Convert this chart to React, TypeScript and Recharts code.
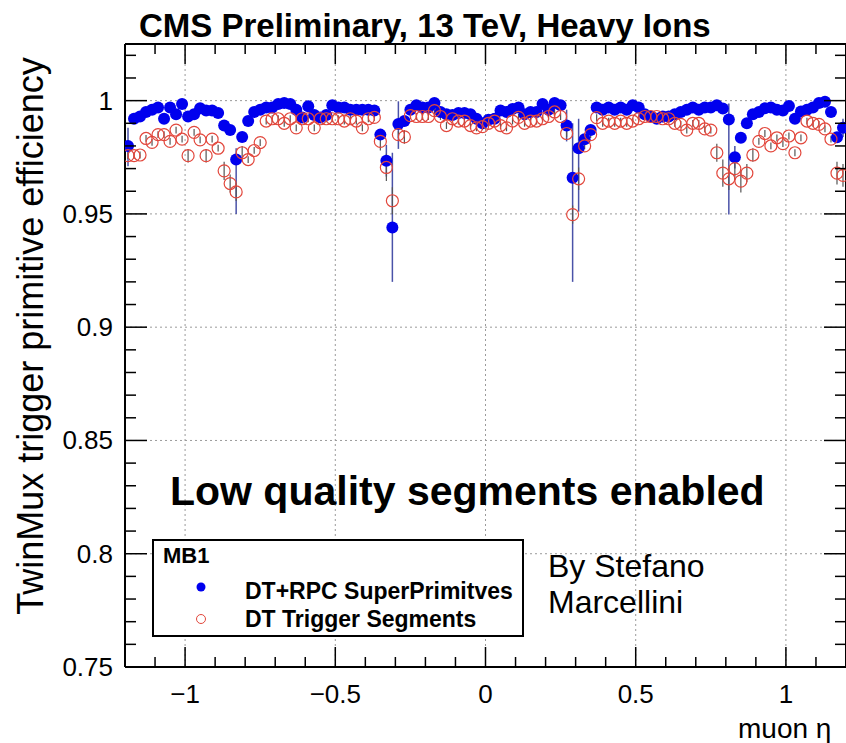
import { ScatterChart, Scatter, XAxis, YAxis, ErrorBar, CartesianGrid, Legend } from 'recharts';

// binning of muon eta: 120 bins of 0.02 from -1.2 to 1.2
const ETA_MIN = -1.2;
const BIN_WIDTH = 0.02;

const SERIES_NAMES = ['DT+RPC SuperPrimitves', 'DT Trigger Segments'];

// DT+RPC SuperPrimitives efficiency per eta bin
const SUPER_PRIM_EFF = [
  0.980, 0.992, 0.993, 0.995, 0.996, 0.997, 0.992, 0.997, 0.994, 0.9985,
  0.993, 0.994, 0.9966, 0.9956, 0.9956, 0.9945, 0.989, 0.987, 0.974, 0.984,
  0.991, 0.995, 0.996, 0.997, 0.997, 0.9985, 0.999, 0.9985, 0.996, 0.9926,
  0.9975, 0.9937, 0.9926, 0.9937, 0.998, 0.997, 0.997, 0.996, 0.996, 0.996,
  0.996, 0.9956, 0.985, 0.9735, 0.944, 0.9897, 0.991, 0.996, 0.998, 0.997,
  0.997, 0.999, 0.995, 0.994, 0.9937, 0.9945, 0.9945, 0.994, 0.992, 0.990,
  0.9916, 0.992, 0.9956, 0.995, 0.9963, 0.997, 0.994, 0.995, 0.995, 0.9985,
  0.996, 0.999, 0.998, 0.989, 0.966, 0.979, 0.983, 0.987, 0.997, 0.996,
  0.997, 0.996, 0.997, 0.996, 0.998, 0.997, 0.994, 0.993, 0.992, 0.993,
  0.993, 0.994, 0.995, 0.996, 0.997, 0.996, 0.997, 0.997, 0.998, 0.9965,
  0.9917, 0.975, 0.9836, 0.990, 0.994, 0.995, 0.9966, 0.997, 0.996, 0.9956,
  0.9976, 0.992, 0.9952, 0.996, 0.997, 0.999, 0.9995, 0.995, 0.9838, 0.988,
];

// DT Trigger Segments efficiency per eta bin
const TRIG_SEG_EFF = [
  0.9757, 0.9757, 0.976, 0.9833, 0.9816, 0.985, 0.985, 0.982, 0.987, 0.983,
  0.9757, 0.986, 0.9827, 0.9757, 0.983, 0.979, 0.969, 0.9634, 0.9597, 0.977,
  0.974, 0.978, 0.9815, 0.991, 0.992, 0.992, 0.990, 0.992, 0.988, 0.992,
  0.992, 0.988, 0.992, 0.992, 0.992, 0.992, 0.991, 0.992, 0.991, 0.988,
  0.992, 0.9926, 0.982, 0.9705, 0.9558, 0.985, 0.984, 0.9934, 0.993, 0.993,
  0.993, 0.9956, 0.993, 0.989, 0.992, 0.991, 0.991, 0.989, 0.988, 0.9885,
  0.990, 0.991, 0.989, 0.988, 0.991, 0.9926, 0.990, 0.991, 0.991, 0.992,
  0.993, 0.995, 0.993, 0.9855, 0.9497, 0.9655, 0.980, 0.985, 0.9925, 0.990,
  0.991, 0.990, 0.991, 0.990, 0.991, 0.992, 0.993, 0.993, 0.993, 0.992,
  0.992, 0.990, 0.9895, 0.987, 0.990, 0.990, 0.9875, 0.987, 0.977, 0.968,
  0.9655, 0.970, 0.9645, 0.968, 0.976, 0.982, 0.9855, 0.980, 0.9836, 0.981,
  0.9844, 0.977, 0.9836, 0.991, 0.990, 0.9895, 0.9875, 0.983, 0.968, 0.967,
];

// visible error bars: [bin, low, high]; the rest hide under the markers
const SUPER_PRIM_ERR: [number, number, number][] = [
  [0, 0.009, 0.008], [18, 0.024, 0.005], [43, 0.007, 0.007], [44, 0.024, 0.033],
  [45, 0.011, 0.010], [73, 0.007, 0.007], [74, 0.046, 0.024], [75, 0.028, 0.013],
  [100, 0.042, 0.007], [101, 0.005, 0.005], [119, 0.004, 0.004],
];
const TRIG_SEG_ERR: [number, number, number][] = [
  [10, 0.003, 0.003], [13, 0.003, 0.003], [16, 0.004, 0.004], [17, 0.004, 0.004],
  [18, 0.004, 0.004], [19, 0.003, 0.003], [42, 0.004, 0.004], [43, 0.006, 0.006],
  [44, 0.006, 0.006], [46, 0.003, 0.003], [74, 0.004, 0.004], [75, 0.005, 0.005],
  [98, 0.004, 0.004], [99, 0.006, 0.006], [100, 0.005, 0.005], [101, 0.005, 0.005],
  [102, 0.005, 0.005], [103, 0.004, 0.004], [104, 0.003, 0.003], [118, 0.005, 0.005],
  [119, 0.005, 0.005],
];
const DEFAULT_ERR = 0.0015;

const X_MAJOR = [-1, -0.5, 0, 0.5, 1];
const X_LABELS = ['\u22121', '\u22120.5', '0', '0.5', '1'];
const Y_MAJOR = [0.75, 0.8, 0.85, 0.9, 0.95, 1];
const Y_LABELS = ['0.75', '0.8', '0.85', '0.9', '0.95', '1'];

// minor ticks every 0.1 in eta and 0.01 in efficiency
const X_TICKS = Array.from({ length: 25 }, (_, k) => +(-1.2 + 0.1 * k).toFixed(2));
const Y_TICKS = Array.from({ length: 28 }, (_, k) => +(0.75 + 0.01 * k).toFixed(2));

const X_DOMAIN = [-1.2, 1.2];
const Y_DOMAIN = [0.75, 1.025];

const BLUE = '#0000ee';
const RED = '#e2473c';
const FONT = '"Liberation Sans", Arial, Helvetica, sans-serif';

function buildSeries(eff: number[], errs: [number, number, number][]) {
  return eff.map((v, i) => {
    const e = errs.find((r) => r[0] === i);
    return {
      eta: +(ETA_MIN + BIN_WIDTH * (i + 0.5)).toFixed(3),
      eff: v,
      err: e ? [e[1], e[2]] : [DEFAULT_ERR, DEFAULT_ERR],
    };
  });
}

const superPrimData = buildSeries(SUPER_PRIM_EFF, SUPER_PRIM_ERR);
const trigSegData = buildSeries(TRIG_SEG_EFF, TRIG_SEG_ERR);

const majorIndex = (v: number, majors: number[]) => majors.findIndex((m) => Math.abs(m - v) < 1e-6);

function BottomTick(props: any) {
  const { x, y, payload } = props;
  const k = majorIndex(payload.value, X_MAJOR);
  return (
    <g>
      <line x1={x} y1={y} x2={x} y2={y - (k >= 0 ? 20 : 10)} stroke="#000" strokeWidth={1.5} />
      {k >= 0 && (
        <text x={x} y={y + 36} textAnchor="middle" fontSize={26} fontFamily={FONT} fill="#000">
          {X_LABELS[k]}
        </text>
      )}
    </g>
  );
}

function TopTick(props: any) {
  const { x, y, payload } = props;
  const k = majorIndex(payload.value, X_MAJOR);
  return <line x1={x} y1={y} x2={x} y2={y + (k >= 0 ? 20 : 10)} stroke="#000" strokeWidth={1.5} />;
}

function LeftTick(props: any) {
  const { x, y, payload } = props;
  const k = majorIndex(payload.value, Y_MAJOR);
  return (
    <g>
      <line x1={x} y1={y} x2={x + (k >= 0 ? 22 : 11)} y2={y} stroke="#000" strokeWidth={1.5} />
      {k >= 0 && (
        <text x={x - 12} y={y + 9} textAnchor="end" fontSize={26} fontFamily={FONT} fill="#000">
          {Y_LABELS[k]}
        </text>
      )}
    </g>
  );
}

function RightTick(props: any) {
  const { x, y, payload } = props;
  const k = majorIndex(payload.value, Y_MAJOR);
  return <line x1={x} y1={y} x2={x - (k >= 0 ? 22 : 11)} y2={y} stroke="#000" strokeWidth={1.5} />;
}

const BlueDot = (props: any) => <circle cx={props.cx} cy={props.cy} r={6} fill={BLUE} />;
const RedRing = (props: any) => (
  <circle cx={props.cx} cy={props.cy} r={6} fill="none" stroke={RED} strokeWidth={1.2} />
);

function LegendBox() {
  return (
    <svg width={372} height={98} style={{ display: 'block', fontFamily: FONT }}>
      <rect x={1} y={1} width={370} height={96} fill="#fff" stroke="#000" strokeWidth={2} />
      <text x={11} y={24} fontSize={22} fontWeight="bold" fill="#000">MB1</text>
      <circle cx={49} cy={48} r={4.5} fill={BLUE} />
      <text x={93} y={60} fontSize={23} fontWeight="bold" fill="#000">{SERIES_NAMES[0]}</text>
      <circle cx={49} cy={80} r={4.5} fill="none" stroke={RED} strokeWidth={1} />
      <text x={93} y={88} fontSize={23} fontWeight="bold" fill="#000">{SERIES_NAMES[1]}</text>
    </svg>
  );
}

// axes are 1px thick boxes; Recharts skips drawing an axis of zero size
const axisCommon = {
  type: 'number' as const,
  interval: 0 as const,
  tickSize: 0,
  tickMargin: 0,
  tickLine: false,
  axisLine: { stroke: '#000', strokeWidth: 2 },
  allowDataOverflow: true,
};

export default function App() {
  return (
    <div style={{ position: 'absolute', left: 0, top: 0, width: 846, height: 743, background: '#fff', overflow: 'hidden', fontFamily: FONT }}>
      <ScatterChart width={846} height={743} margin={{ top: 43, right: -1, bottom: 75, left: 124 }}>
        <CartesianGrid
          stroke="#9a9a9a"
          strokeDasharray="2 3"
          horizontalValues={Y_MAJOR.slice(1)}
          verticalValues={X_MAJOR}
        />
        <XAxis {...axisCommon} dataKey="eta" domain={X_DOMAIN} ticks={X_TICKS} height={1} tick={BottomTick} />
        <XAxis
          {...axisCommon}
          xAxisId="top"
          orientation="top"
          dataKey="eta"
          domain={X_DOMAIN}
          ticks={X_TICKS}
          height={1}
          tick={TopTick}
        />
        <YAxis {...axisCommon} dataKey="eff" domain={Y_DOMAIN} ticks={Y_TICKS} width={1} tick={LeftTick} />
        <YAxis
          {...axisCommon}
          yAxisId="right"
          orientation="right"
          dataKey="eff"
          domain={Y_DOMAIN}
          ticks={Y_TICKS}
          width={1}
          tick={RightTick}
        />
        <Legend
          layout="vertical"
          align="center"
          verticalAlign="middle"
          content={<LegendBox />}
          wrapperStyle={{ position: 'absolute', left: 152, top: 539, width: 372, height: 98 }}
        />
        <Scatter name={SERIES_NAMES[0]} data={superPrimData} fill={BLUE} shape={BlueDot} isAnimationActive={false}>
          <ErrorBar dataKey="err" direction="y" width={0} stroke="#4a52a8" strokeWidth={1.5} isAnimationActive={false} />
        </Scatter>
        <Scatter
          name={SERIES_NAMES[1]}
          xAxisId="top"
          yAxisId="right"
          data={trigSegData}
          fill={RED}
          shape={RedRing}
          isAnimationActive={false}
        >
          <ErrorBar dataKey="err" direction="y" width={0} stroke="#555" strokeWidth={1.2} isAnimationActive={false} />
        </Scatter>
      </ScatterChart>

      <svg
        width={846}
        height={743}
        style={{ position: 'absolute', left: 0, top: 0, pointerEvents: 'none', fontFamily: FONT }}
      >
        <text x={139} y={37} fontSize={33} fontWeight="bold" fill="#000">
          CMS Preliminary, 13 TeV, Heavy Ions
        </text>
        <text x={-336} y={43} transform="rotate(-90)" textAnchor="middle" fontSize={36} fill="#000">
          TwinMux trigger primitive efficiency
        </text>
        <text x={170} y={505} fontSize={41} fontWeight="bold" fill="#000">
          Low quality segments enabled
        </text>
        <text x={548} y={577} fontSize={32} fill="#000">By Stefano</text>
        <text x={548} y={613} fontSize={32} fill="#000">Marcellini</text>
        <text x={738} y={738} fontSize={28} fill="#000">muon η</text>
      </svg>
    </div>
  );
}
